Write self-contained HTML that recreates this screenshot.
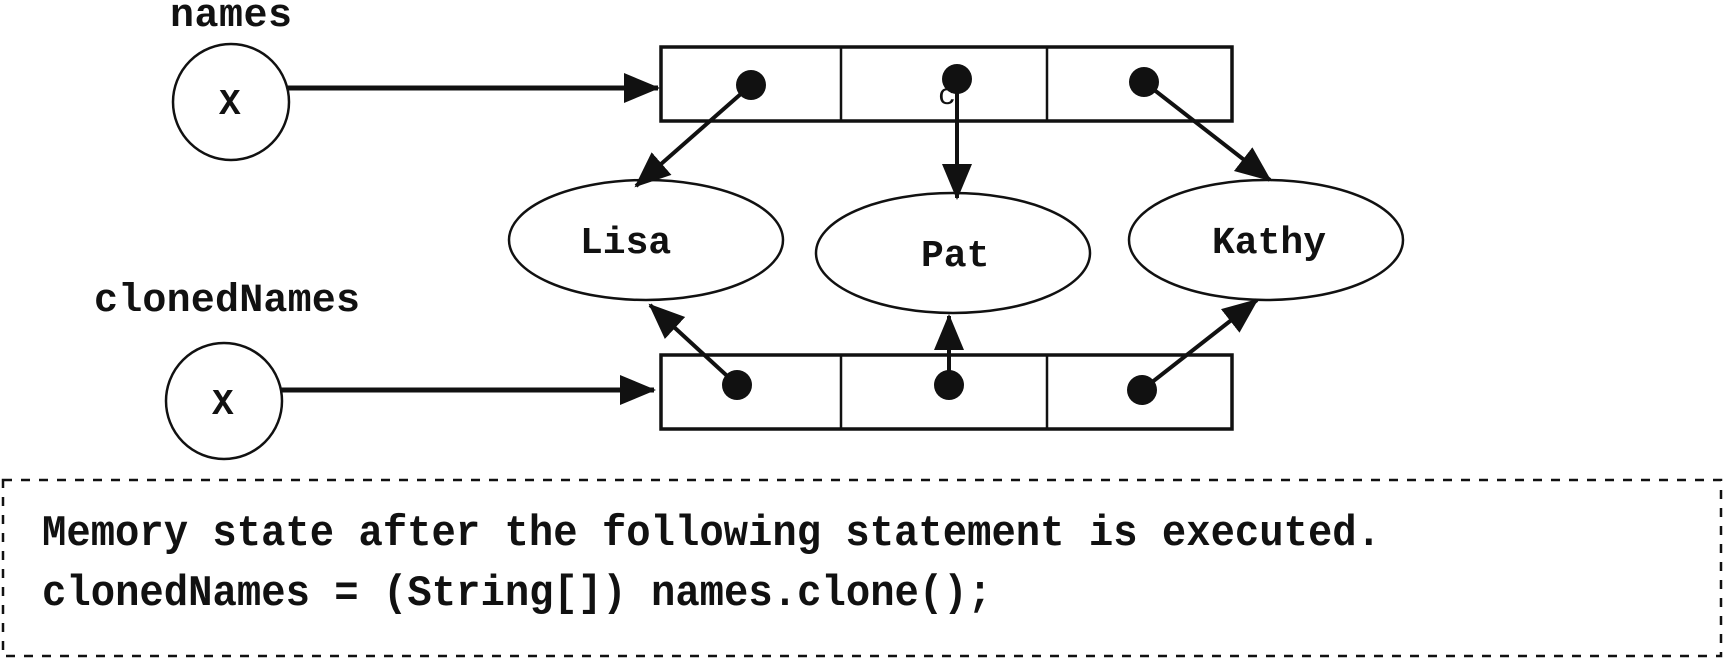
<!DOCTYPE html>
<html><head><meta charset="utf-8"><style>
html,body{margin:0;padding:0;background:#fff;}
svg{display:block}
text{font-family:"Liberation Mono",monospace;fill:#111;}
</style></head><body>
<svg width="1725" height="659" viewBox="0 0 1725 659" xmlns="http://www.w3.org/2000/svg">
<defs>
<marker id="b" markerWidth="36" markerHeight="36" refX="34" refY="18" orient="auto" markerUnits="userSpaceOnUse" viewBox="0 0 36 36">
<path d="M0,3 L36,18 L0,33 z" fill="#111"/></marker>
</defs>
<g stroke="#111" fill="none">
<text x="170" y="26" font-size="40" textLength="122" stroke="none" font-weight="bold">names</text>
<circle cx="231" cy="102" r="58" stroke-width="2.5"/>
<text x="219" y="114" font-size="36" stroke="none" font-weight="bold">X</text>
<line x1="288" y1="88" x2="658" y2="88" stroke-width="5" marker-end="url(#b)"/>
<rect x="661" y="47" width="571" height="74" stroke-width="3.5"/>
<line x1="841" y1="47" x2="841" y2="121" stroke-width="2.5"/>
<line x1="1047" y1="47" x2="1047" y2="121" stroke-width="2.5"/>
<text x="938" y="104" font-size="30" stroke="none">c</text>

<ellipse cx="646" cy="240" rx="137" ry="60" stroke-width="2.5"/>
<ellipse cx="953" cy="253" rx="137" ry="60" stroke-width="2.5"/>
<ellipse cx="1266" cy="240" rx="137" ry="60" stroke-width="2.5"/>
<text x="580" y="253" font-size="38" stroke="none" font-weight="bold">Lisa</text>
<text x="921" y="266" font-size="38" stroke="none" font-weight="bold">Pat</text>
<text x="1212" y="253" font-size="38" stroke="none" font-weight="bold">Kathy</text>

<line x1="751" y1="85" x2="636" y2="186" stroke-width="4" marker-end="url(#b)"/>
<line x1="957" y1="79" x2="957" y2="198" stroke-width="4" marker-end="url(#b)"/>
<line x1="1144" y1="82" x2="1270" y2="180" stroke-width="4" marker-end="url(#b)"/>

<text x="94" y="311" font-size="40" textLength="266" stroke="none" font-weight="bold">clonedNames</text>
<circle cx="224" cy="401" r="58" stroke-width="2.5"/>
<text x="212" y="414" font-size="36" stroke="none" font-weight="bold">X</text>
<line x1="280" y1="390" x2="654" y2="390" stroke-width="5" marker-end="url(#b)"/>
<rect x="661" y="355" width="571" height="74" stroke-width="3.5"/>
<line x1="841" y1="355" x2="841" y2="429" stroke-width="2.5"/>
<line x1="1047" y1="355" x2="1047" y2="429" stroke-width="2.5"/>

<line x1="737" y1="385" x2="650" y2="305" stroke-width="4" marker-end="url(#b)"/>
<line x1="949" y1="385" x2="949" y2="316" stroke-width="4" marker-end="url(#b)"/>
<line x1="1142" y1="390" x2="1257" y2="300" stroke-width="4" marker-end="url(#b)"/>

<rect x="3" y="480" width="1718" height="176" stroke-width="2.5" stroke-dasharray="9,9"/>
<text x="42" y="545" font-size="44" font-weight="bold" textLength="1339" lengthAdjust="spacingAndGlyphs" stroke="none">Memory state after the following statement is executed.</text>
<text x="42" y="605" font-size="44" font-weight="bold" textLength="950" lengthAdjust="spacingAndGlyphs" stroke="none">clonedNames = (String[]) names.clone();</text>
</g>
<g fill="#111">
<circle cx="751" cy="85" r="15"/><circle cx="957" cy="79" r="15"/><circle cx="1144" cy="82" r="15"/>
<circle cx="737" cy="385" r="15"/><circle cx="949" cy="385" r="15"/><circle cx="1142" cy="390" r="15"/>
</g>
</svg>
</body></html>
